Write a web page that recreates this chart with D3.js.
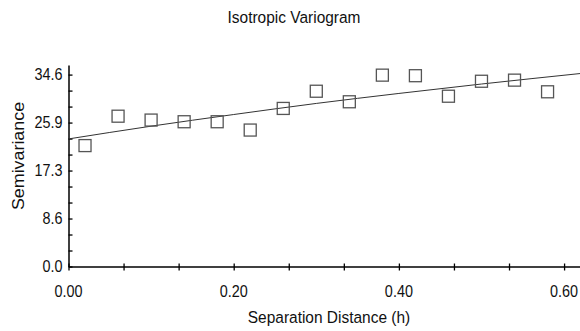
<!DOCTYPE html>
<html>
<head>
<meta charset="utf-8">
<script src="https://cdn.jsdelivr.net/npm/d3@7"></script>
<style>
  body { margin: 0; background: #fff; }
  text { font-family: "Liberation Sans", Arial, sans-serif; fill: #111; }
</style>
</head>
<body>
<script>
//data
var lags = [0.02, 0.06, 0.10, 0.14, 0.18, 0.22, 0.26, 0.30, 0.34, 0.38, 0.42, 0.46, 0.50, 0.54, 0.58];
var semivariance = [21.8, 27.1, 26.4, 26.1, 26.1, 24.6, 28.5, 31.6, 29.7, 34.5, 34.4, 30.7, 33.4, 33.6, 31.5];

//fitted model curve
var modelLags = [0, 0.1, 0.2, 0.3, 0.4, 0.5, 0.62];
var modelValues = [23.0, 25.3, 27.4, 29.4, 31.2, 32.9, 34.8];

//ticks
var xMajorTicks = [0, 0.2, 0.4, 0.6];
var xTickLabels = ["0.00", "0.20", "0.40", "0.60"];
var yMax = 34.6;
var yTickLabels = ["0.0", "8.6", "17.3", "25.9", "34.6"];

//size svg variable
var outerWidth = 580;
var outerHeight = 331;

var svg = d3.select("body").append("svg")
  .attr("width", outerWidth)
  .attr("height", outerHeight);

//scales
var xScale = d3.scaleLinear().domain([0, 0.62]).range([68.5, 580.6]);
var yScale = d3.scaleLinear().domain([0, yMax * 1.05]).range([266.5, 65]);

//tick values (minor every third of a major step)
var xTicks = d3.range(0, 10).map(function(i){ return i * 0.2 / 3; });
var yTicks = d3.range(0, 13).map(function(i){ return i * yMax / 12; });
var yMajor = yTickLabels.map(function(d, i){ return i * yMax / 4; });

//x axis
var xAxis = svg.append("g")
  .attr("transform", "translate(0," + yScale(0) + ")")
  .call(d3.axisBottom(xScale).tickValues(xTicks).tickSize(4).tickSizeOuter(0).tickFormat(""));
xAxis.selectAll(".tick line").attr("y1", -3).attr("stroke", "#000").attr("stroke-width", 1.3);
xAxis.select(".domain").attr("stroke", "#000").attr("stroke-width", 1.5);

xAxis.selectAll(".lbl")
  .data(xMajorTicks)
  .enter()
  .append("text")
  .attr("transform", function(d){ return "translate(" + xScale(d) + ",30) scale(0.9,1)"; })
  .attr("text-anchor", "middle")
  .style("font-size", "16px")
  .text(function(d, i){ return xTickLabels[i]; });

//y axis
var yAxis = svg.append("g")
  .attr("transform", "translate(" + xScale(0) + ",0)")
  .call(d3.axisLeft(yScale).tickValues(yTicks).tickSize(3).tickSizeOuter(0).tickFormat(""));
yAxis.selectAll(".tick line").attr("x2", 4).attr("stroke", "#000").attr("stroke-width", 1.3);
yAxis.select(".domain").attr("stroke", "#000").attr("stroke-width", 1.5);

yAxis.selectAll(".lbl")
  .data(yMajor)
  .enter()
  .append("text")
  .attr("transform", function(d){ return "translate(-6," + yScale(d) + ") scale(0.9,1)"; })
  .attr("dy", "0.36em")
  .attr("text-anchor", "end")
  .style("font-size", "16px")
  .text(function(d, i){ return yTickLabels[i]; });

//model line
var line = d3.line()
  .x(function(d, i){ return xScale(modelLags[i]); })
  .y(function(d){ return yScale(d); })
  .curve(d3.curveMonotoneX);

svg.append("path")
  .datum(modelValues)
  .attr("d", line)
  .attr("fill", "none")
  .attr("stroke", "#333")
  .attr("stroke-width", 1);

//squares
var size = 12;
svg.selectAll("rect.pt")
  .data(semivariance)
  .enter()
  .append("rect")
  .attr("class", "pt")
  .attr("x", function(d, i){ return xScale(lags[i]) - size / 2; })
  .attr("y", function(d){ return yScale(d) - size / 2; })
  .attr("width", size)
  .attr("height", size)
  .attr("fill", "none")
  .attr("stroke", "#555")
  .attr("stroke-width", 1.3);

//titles
svg.append("text")
  .attr("transform", "translate(294,23) scale(0.91,1)")
  .attr("text-anchor", "middle")
  .style("font-size", "17px")
  .text("Isotropic Variogram");

svg.append("text")
  .attr("transform", "translate(329,323) scale(0.91,1)")
  .attr("text-anchor", "middle")
  .style("font-size", "17px")
  .text("Separation Distance (h)");

svg.append("text")
  .attr("transform", "translate(24,156) rotate(-90) scale(1.05,1)")
  .attr("text-anchor", "middle")
  .style("font-size", "17px")
  .text("Semivariance");
</script>
</body>
</html>
